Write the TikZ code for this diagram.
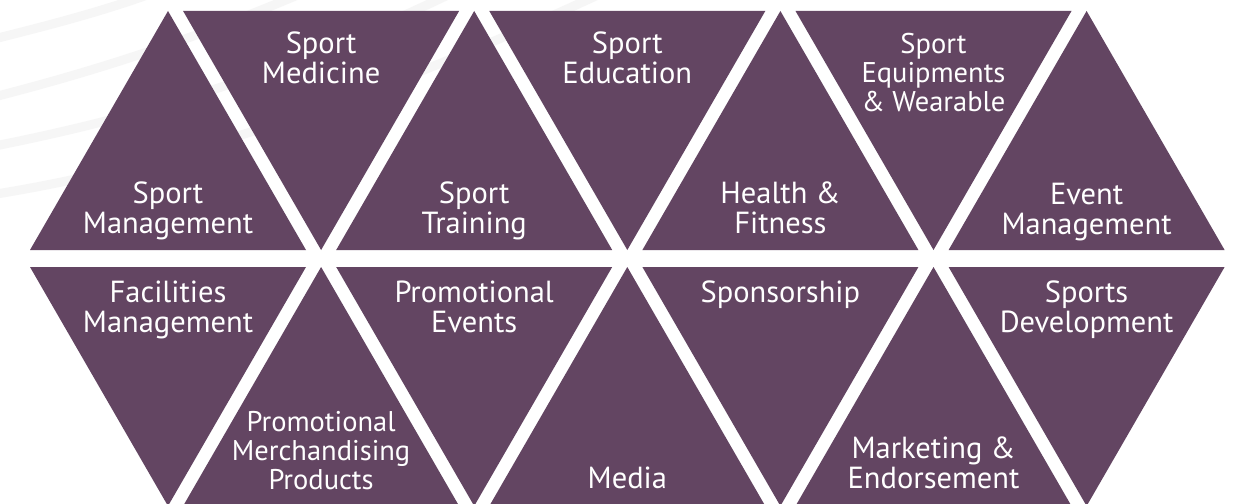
\documentclass[tikz,border=0pt]{standalone}
\usepackage{fontspec}
\setmainfont{PT Sans}
\definecolor{plum}{RGB}{99,69,98}
\definecolor{faint}{RGB}{246,246,246}
\begin{document}
\begin{tikzpicture}[x=1pt,y=-1pt,
  tri/.style={fill=plum},
  lbl/.style={text=white,align=center,inner sep=0pt,anchor=base,font=\fontsize{30.5}{29.5}\selectfont},
  small/.style={font=\fontsize{28.5}{29}\selectfont},
  band/.style={draw=faint,line width=9pt}]
\useasboundingbox (0,0) rectangle (1241,503);
\clip (0,0) rectangle (1241,503);
\fill[white] (0,0) rectangle (1241,503);
% faint background bands
\draw[band] (-10,40) .. controls (50,25) and (100,12) .. (150,-6);
\draw[band] (-10,98) .. controls (80,75) and (180,45) .. (300,-6);
\draw[band] (-10,147) .. controls (100,125) and (250,90) .. (450,-6);
\draw[band] (-10,195) .. controls (150,170) and (350,110) .. (600,-6);
% triangle geometry
\def\hs{138}
\def\ta{11}\def\tb{250}
\def\ba{267}\def\bb{506}
% top row
\foreach \i/\up in {0/1,1/0,2/1,3/0,4/1,5/0,6/1}{
  \pgfmathsetmacro\cx{168+153.1*\i}
  \ifnum\up=1
    \fill[tri] (\cx,\ta) -- (\cx+\hs,\tb) -- (\cx-\hs,\tb) -- cycle;
  \else
    \fill[tri] (\cx-\hs,\ta) -- (\cx+\hs,\ta) -- (\cx,\tb) -- cycle;
  \fi
}
% bottom row
\foreach \i/\up in {0/0,1/1,2/0,3/1,4/0,5/1,6/0}{
  \pgfmathsetmacro\cx{168+153.1*\i}
  \ifnum\up=1
    \fill[tri] (\cx,\ba) -- (\cx+\hs,\bb) -- (\cx-\hs,\bb) -- cycle;
  \else
    \fill[tri] (\cx-\hs,\ba) -- (\cx+\hs,\ba) -- (\cx,\bb) -- cycle;
  \fi
}
% labels top row (anchor = baseline of the last line)
\node[lbl] (smgmt) at (168,233) {Sport\\Management};
\node[lbl] (smed) at (321.1,83) {Sport\\Medicine};
\node[lbl] (strain) at (474.2,233) {Sport\\Training};
\node[lbl] (sedu) at (627.3,83) {Sport\\Education};
\node[lbl] (health) at (780.4,233) {Health \&\\Fitness};
\node[lbl,small] (sequip) at (933.5,111) {Sport\\Equipments\\\& Wearable};
\node[lbl] (event) at (1086.6,234) {Event\\Management};
% labels bottom row
\node[lbl] (facil) at (168,332) {Facilities\\Management};
\node[lbl,small] (merch) at (321.1,489) {Promotional\\Merchandising\\Products};
\node[lbl] (promo) at (474.2,332) {Promotional\\Events};
\node[lbl] (media) at (627.3,488) {Media};
\node[lbl] (spons) at (780.4,302) {Sponsorship};
\node[lbl] (market) at (933.5,488) {Marketing \&\\Endorsement};
\node[lbl] (sdev) at (1086.6,332) {Sports\\Development};
\end{tikzpicture}
\end{document}
